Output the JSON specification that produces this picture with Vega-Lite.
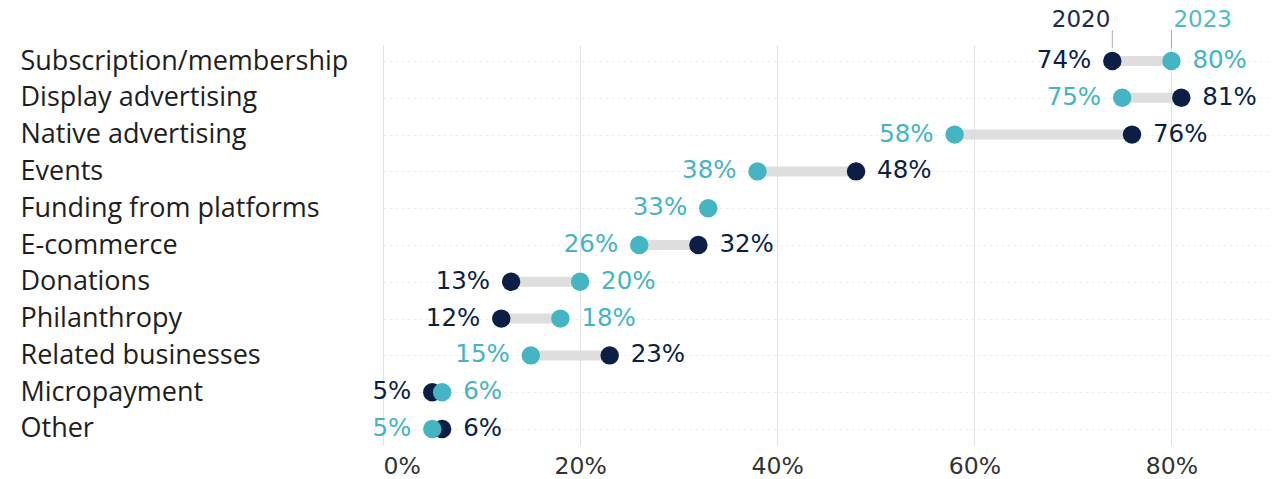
{
  "$schema": "https://vega.github.io/schema/vega-lite/v6.json",
  "width": 887,
  "height": 400,
  "autosize": {"type": "none"},
  "padding": {"left": 383, "top": 45, "right": 3, "bottom": 34},
  "background": "white",
  "config": {"view": {"stroke": null}, "font": "Open Sans"},
  "data": {
    "values": [
      {"category": "Subscription/membership", "year": "2020", "value": 0.74},
      {"category": "Subscription/membership", "year": "2023", "value": 0.80},
      {"category": "Display advertising", "year": "2020", "value": 0.81},
      {"category": "Display advertising", "year": "2023", "value": 0.75},
      {"category": "Native advertising", "year": "2020", "value": 0.76},
      {"category": "Native advertising", "year": "2023", "value": 0.58},
      {"category": "Events", "year": "2020", "value": 0.48},
      {"category": "Events", "year": "2023", "value": 0.38},
      {"category": "Funding from platforms", "year": "2023", "value": 0.33},
      {"category": "E-commerce", "year": "2020", "value": 0.32},
      {"category": "E-commerce", "year": "2023", "value": 0.26},
      {"category": "Donations", "year": "2020", "value": 0.13},
      {"category": "Donations", "year": "2023", "value": 0.20},
      {"category": "Philanthropy", "year": "2020", "value": 0.12},
      {"category": "Philanthropy", "year": "2023", "value": 0.18},
      {"category": "Related businesses", "year": "2020", "value": 0.23},
      {"category": "Related businesses", "year": "2023", "value": 0.15},
      {"category": "Micropayment", "year": "2020", "value": 0.05},
      {"category": "Micropayment", "year": "2023", "value": 0.06},
      {"category": "Other", "year": "2020", "value": 0.06},
      {"category": "Other", "year": "2023", "value": 0.05}
    ]
  },
  "encoding": {
    "y": {
      "field": "category",
      "type": "nominal",
      "sort": ["Subscription/membership", "Display advertising", "Native advertising", "Events", "Funding from platforms", "E-commerce", "Donations", "Philanthropy", "Related businesses", "Micropayment", "Other"],
      "scale": {"type": "point", "padding": 0.435},
      "axis": {
        "title": null,
        "labelAlign": "left",
        "labelPadding": 363,
        "labelLimit": 500,
        "labelFontSize": 27,
        "labelColor": "#1e1e1e",
        "labelFont": "Open Sans",
        "ticks": false,
        "domain": false,
        "grid": true,
        "gridColor": "#ededed",
        "gridDash": [3, 3]
      }
    }
  },
  "layer": [
    {
      "mark": {"type": "rule", "color": "#dedede", "strokeWidth": 10},
      "encoding": {
        "x": {
          "aggregate": "min",
          "field": "value",
          "type": "quantitative",
          "scale": {"domain": [0, 0.9]},
          "axis": {
            "title": null,
            "format": ".0%",
            "values": [0, 0.2, 0.4, 0.6, 0.8],
            "grid": true,
            "gridColor": "#e2e2e2",
            "domain": false,
            "ticks": false,
            "labelPadding": 9,
            "labelFontSize": 23.5,
            "labelFont": "DejaVu Sans",
            "labelColor": "#333333"
          }
        },
        "x2": {"aggregate": "max", "field": "value"}
      }
    },
    {
      "mark": {"type": "circle", "size": 340, "opacity": 1},
      "encoding": {
        "x": {"field": "value", "type": "quantitative"},
        "color": {
          "field": "year",
          "type": "nominal",
          "scale": {"domain": ["2020", "2023"], "range": ["#0b1f45", "#45b4c3"]},
          "legend": null
        }
      }
    },
    {
      "transform": [
        {"joinaggregate": [{"op": "min", "field": "value", "as": "minv"}], "groupby": ["category"]},
        {"filter": "datum.value == datum.minv"}
      ],
      "mark": {"type": "text", "align": "right", "dx": -21, "fontSize": 24.5, "font": "DejaVu Sans", "letterSpacing": 2.5},
      "encoding": {
        "x": {"field": "value", "type": "quantitative"},
        "text": {"field": "value", "format": ".0%"},
        "color": {
          "field": "year",
          "type": "nominal",
          "scale": {"domain": ["2020", "2023"], "range": ["#1f2b48", "#4fbcc6"]},
          "legend": null
        }
      }
    },
    {
      "transform": [
        {"joinaggregate": [{"op": "min", "field": "value", "as": "minv"}], "groupby": ["category"]},
        {"filter": "datum.value != datum.minv"}
      ],
      "mark": {"type": "text", "align": "left", "dx": 21, "fontSize": 24.5, "font": "DejaVu Sans", "letterSpacing": 2.5},
      "encoding": {
        "x": {"field": "value", "type": "quantitative"},
        "text": {"field": "value", "format": ".0%"},
        "color": {
          "field": "year",
          "type": "nominal",
          "scale": {"domain": ["2020", "2023"], "range": ["#1f2b48", "#4fbcc6"]},
          "legend": null
        }
      }
    },
    {
      "transform": [{"filter": "datum.category == 'Subscription/membership'"}],
      "mark": {"type": "tick", "color": "#888888", "thickness": 1, "size": 18, "yOffset": -22},
      "encoding": {
        "x": {"field": "value", "type": "quantitative"}
      }
    },
    {
      "transform": [{"filter": "datum.category == 'Subscription/membership' && datum.year == '2020'"}],
      "mark": {"type": "text", "align": "right", "dx": -2, "dy": -41, "fontSize": 23, "font": "DejaVu Sans", "letterSpacing": 2, "color": "#1f2b48"},
      "encoding": {
        "x": {"field": "value", "type": "quantitative"},
        "text": {"field": "year"}
      }
    },
    {
      "transform": [{"filter": "datum.category == 'Subscription/membership' && datum.year == '2023'"}],
      "mark": {"type": "text", "align": "left", "dx": 2, "dy": -41, "fontSize": 23, "font": "DejaVu Sans", "letterSpacing": 2, "color": "#4fbcc6"},
      "encoding": {
        "x": {"field": "value", "type": "quantitative"},
        "text": {"field": "year"}
      }
    }
  ]
}
